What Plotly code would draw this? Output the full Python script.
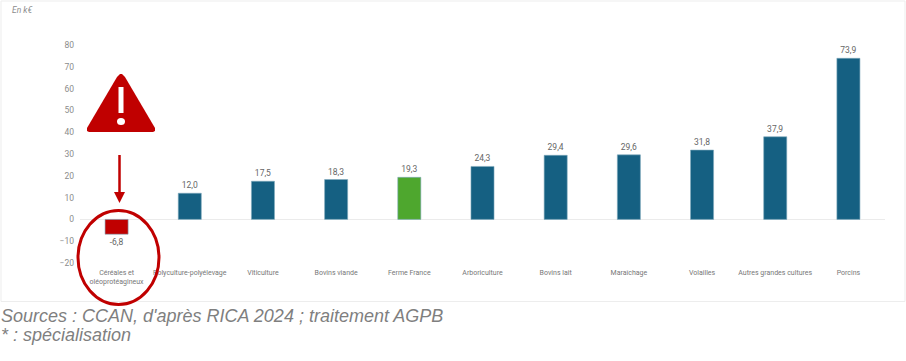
import plotly.graph_objects as go

categories = ["Céréales et<br>oléoprotéagineux", "Polyculture-polyélevage", "Viticulture", "Bovins viande",
              "Ferme France", "Arboriculture", "Bovins lait", "Maraîchage", "Volailles",
              "Autres grandes cultures", "Porcins"]
values = [-6.8, 12.0, 17.5, 18.3, 19.3, 24.3, 29.4, 29.6, 31.8, 37.9, 73.9]
labels = ["-6,8", "12,0", "17,5", "18,3", "19,3", "24,3", "29,4", "29,6", "31,8", "37,9", "73,9"]
colors = ["#C00000", "#156082", "#156082", "#156082", "#4EA72E", "#156082", "#156082",
          "#156082", "#156082", "#156082", "#156082"]
y_ticks = [-20, -10, 0, 10, 20, 30, 40, 50, 60, 70, 80]

W, H = 906, 361
L, R, T, B = 80, 885, 45, 263
RED = "#C00000"

def px(x):
    return (x - L) / (R - L)

def py(y):
    return (B - y) / (B - T)

def path(points):
    return "M " + " L ".join(f"{px(x):.5f},{py(y):.5f}" for x, y in points) + " Z"

fig = go.Figure(go.Bar(
    x=categories, y=values, text=labels, textposition="outside", cliponaxis=False,
    marker=dict(color=colors, line=dict(color="#7FA9BC", width=0.6)), width=0.315,
    textfont=dict(family="Roboto, Arial, sans-serif", size=8.5, color="#666666"),
))

tri = [(120, 74), (122, 74), (125, 77), (155, 128), (155, 131), (153, 132),
       (89, 132), (87, 131), (87, 128), (117, 77)]
bar = [(118.5, 87), (123.5, 87), (123.5, 113), (118.5, 113)]
head = [(114, 192), (125, 192), (119.5, 203)]
c_l, c_r, c_t, c_b = 78, 159, 210.5, 304.5

shapes = [
    dict(type="rect", xref="paper", yref="paper", x0=px(1), x1=px(905), y0=py(1), y1=py(301.5),
         line=dict(color="#EDEDED", width=1), fillcolor="rgba(0,0,0,0)", layer="below"),
    dict(type="path", xref="paper", yref="paper", path=path(tri), fillcolor=RED, line=dict(width=0)),
    dict(type="path", xref="paper", yref="paper", path=path(bar), fillcolor="white", line=dict(width=0)),
    dict(type="circle", xref="paper", yref="paper", x0=px(117), x1=px(125), y0=py(118), y1=py(125),
         fillcolor="white", line=dict(width=0)),
    dict(type="line", xref="paper", yref="paper", x0=px(119.5), x1=px(119.5), y0=py(155), y1=py(193),
         line=dict(color=RED, width=2.5)),
    dict(type="path", xref="paper", yref="paper", path=path(head), fillcolor=RED, line=dict(width=0)),
    dict(type="circle", xref="paper", yref="paper", x0=px(c_l), x1=px(c_r), y0=py(c_b), y1=py(c_t),
         line=dict(color=RED, width=3), fillcolor="rgba(0,0,0,0)"),
]

def note(x, y, text, size, color, font="Liberation Sans, Arial, sans-serif"):
    return dict(xref="paper", yref="paper", x=px(x), y=py(y), text=text, showarrow=False,
                xanchor="left", yanchor="middle", align="left",
                font=dict(family=font, size=size, color=color))

annotations = [
    note(10, 10, "<i>En k€</i>", 8.5, "#8C8C8C", "Roboto, Arial, sans-serif"),
    note(-1, 315.5, "<i>Sources : CCAN, d'après RICA 2024 ; traitement AGPB</i>", 18, "#7F7F7F"),
    note(-1, 335, "<i>* : spécialisation</i>", 18, "#7F7F7F"),
]

fig.update_layout(
    width=W, height=H, margin=dict(l=L, r=W - R, t=T, b=H - B, autoexpand=False),
    paper_bgcolor="white", plot_bgcolor="rgba(0,0,0,0)", showlegend=False,
    shapes=shapes, annotations=annotations, bargap=0.685,
    font=dict(family="Roboto, Arial, sans-serif"),
    xaxis=dict(type="category", showgrid=False, showline=False, ticks="", ticklen=0,
               tickangle=0, tickfont=dict(size=7, color="#777777"), ticklabelstandoff=4),
    yaxis=dict(range=[-20, 80], tickvals=y_ticks, showgrid=False, showline=False, ticks="",
               zeroline=True, zerolinecolor="#EBEBEB", zerolinewidth=1,
               tickfont=dict(size=8.5, color="#8C8C8C"), ticklabelstandoff=5),
)

fig.write_html("out.html", config={"displayModeBar": False},
               post_script="document.body.style.margin='0';document.documentElement.style.overflow='hidden';")
